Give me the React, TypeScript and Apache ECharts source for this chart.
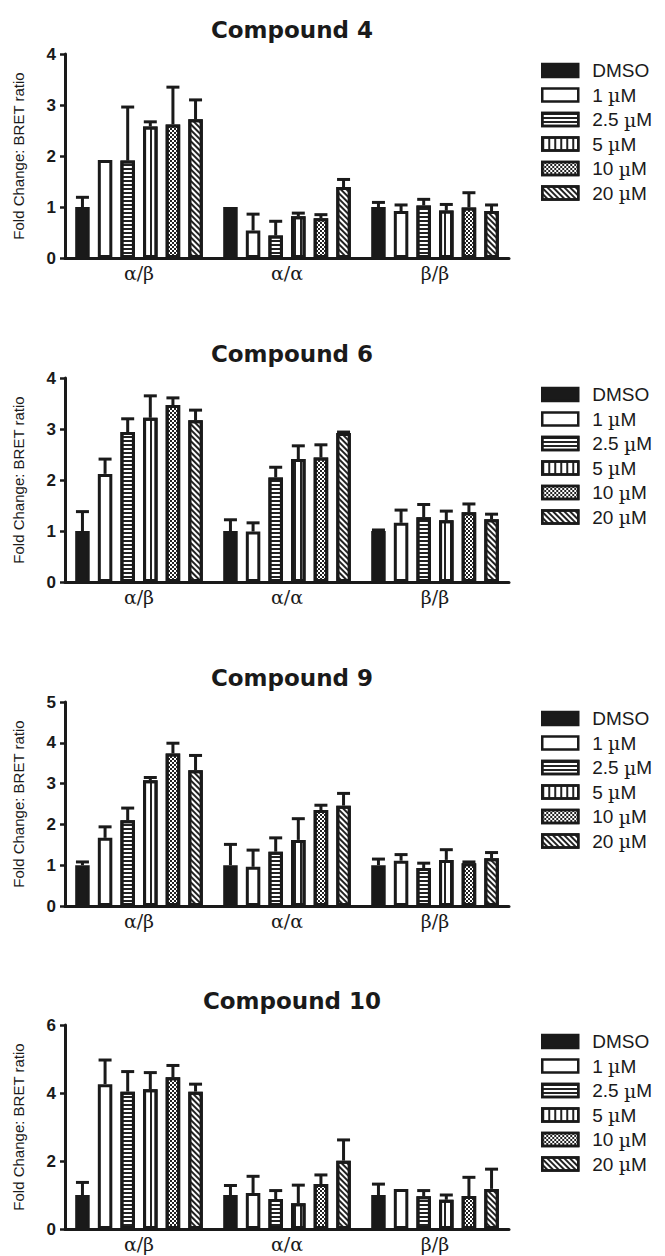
import React, { useEffect, useRef } from "react";
import * as echarts from "echarts";

const categories = ["α/β", "α/α", "β/β"];
const concentrations = ["DMSO", "1 µM", "2.5 µM", "5 µM", "10 µM", "20 µM"];
const compounds = ["Compound 4", "Compound 6", "Compound 9", "Compound 10"];
const yMax = [4, 4, 5, 6];
const yInterval = [1, 1, 1, 2];

// means per concentration: [α/β, α/α, β/β]
const c4Mean = [
  [1.0, 1.0, 1.0],
  [1.92, 0.54, 0.92],
  [1.91, 0.44, 1.03],
  [2.58, 0.82, 0.93],
  [2.62, 0.78, 0.99],
  [2.72, 1.39, 0.92],
];
const c4Err = [
  [0.19, 0, 0.09],
  [0, 0.32, 0.12],
  [1.05, 0.28, 0.12],
  [0.09, 0.06, 0.12],
  [0.73, 0.07, 0.29],
  [0.38, 0.15, 0.12],
];
const c6Mean = [
  [1.0, 1.0, 1.0],
  [2.12, 0.99, 1.16],
  [2.94, 2.05, 1.27],
  [3.22, 2.41, 1.21],
  [3.47, 2.44, 1.37],
  [3.17, 2.92, 1.23],
];
const c6Err = [
  [0.38, 0.22, 0.02],
  [0.29, 0.17, 0.25],
  [0.26, 0.2, 0.25],
  [0.43, 0.26, 0.18],
  [0.14, 0.25, 0.16],
  [0.2, 0.02, 0.1],
];
const c9Mean = [
  [1.0, 1.0, 1.0],
  [1.67, 0.96, 1.11],
  [2.1, 1.33, 0.93],
  [3.08, 1.62, 1.13],
  [3.74, 2.35, 1.05],
  [3.33, 2.46, 1.17],
];
const c9Err = [
  [0.08, 0.51, 0.15],
  [0.27, 0.41, 0.15],
  [0.3, 0.34, 0.12],
  [0.07, 0.52, 0.25],
  [0.25, 0.12, 0.03],
  [0.36, 0.3, 0.14],
];
const c10Mean = [
  [1.0, 1.0, 1.0],
  [4.26, 1.06, 1.18],
  [4.04, 0.88, 0.96],
  [4.11, 0.76, 0.86],
  [4.46, 1.32, 0.97],
  [4.04, 2.01, 1.18],
];
const c10Err = [
  [0.37, 0.28, 0.32],
  [0.71, 0.49, 0],
  [0.59, 0.25, 0.17],
  [0.49, 0.53, 0.14],
  [0.35, 0.27, 0.55],
  [0.22, 0.61, 0.58],
];

const allMeans = [c4Mean, c6Mean, c9Mean, c10Mean];
const allErrs = [c4Err, c6Err, c9Err, c10Err];

const INK = "#1a1a1a";
const GRID_TOPS = [54, 378, 702, 1025];
const GRID_LEFT = 65;
const GRID_W = 444;
const GRID_H = 204;
const BAR_W = 14.5;
const BAR_GAP_PCT = 56;
const PITCH = BAR_W * (1 + BAR_GAP_PCT / 100);

const fills: any[] = [
  { color: INK },
  { color: "#ffffff" },
  {
    color: "#ffffff",
    decal: { symbol: "rect", symbolSize: 1, color: "#222", backgroundColor: "#fff", dashArrayX: [1, 0], dashArrayY: [1.2, 1.8], rotation: 0 },
  },
  {
    color: "#ffffff",
    decal: { symbol: "rect", symbolSize: 1, color: "#222", backgroundColor: "#fff", dashArrayX: [1.2, 3.3], dashArrayY: [1, 0], rotation: 0 },
  },
  {
    color: "#ffffff",
    decal: { symbol: "rect", symbolSize: 1, color: "#222", backgroundColor: "#fff", dashArrayX: [[1.5, 1.5], [0, 1.5, 1.5, 0]], dashArrayY: [1.5, 0], rotation: 0 },
  },
  {
    color: "#ffffff",
    decal: { symbol: "rect", symbolSize: 1, color: "#222", backgroundColor: "#fff", dashArrayX: [1, 0], dashArrayY: [1.2, 1.8], rotation: Math.PI / 4 },
  },
];

function buildOption() {
  const grid: any[] = [];
  const xAxis: any[] = [];
  const yAxis: any[] = [];
  const title: any[] = [];
  const legend: any[] = [];
  const series: any[] = [];

  compounds.forEach((name, p) => {
    const top = GRID_TOPS[p];
    grid.push({ left: GRID_LEFT, top, width: GRID_W, height: GRID_H });
    title.push({
      text: name,
      left: GRID_LEFT + GRID_W / 2,
      top: top - 41,
      textAlign: "center",
      textStyle: { fontFamily: "DejaVu Sans", fontWeight: "bold", fontSize: 23, color: INK },
    });
    legend.push({
      orient: "vertical",
      left: 536,
      top: top + 2,
      itemWidth: 36,
      itemHeight: 13,
      itemGap: 5.5,
      icon: "rect",
      data: concentrations,
      selectedMode: false,
      itemStyle: { borderColor: INK, borderWidth: 2.5 },
      formatter: (n: string) => n.replace("µ", "{mu|µ}"),
      textStyle: {
        fontFamily: "Liberation Sans",
        fontSize: 19,
        color: INK,
        padding: [0, 0, 0, 9],
        rich: { mu: { fontFamily: "DejaVu Serif", fontSize: 19, color: INK } },
      },
    });
    xAxis.push({
      type: "category",
      gridIndex: p,
      data: categories,
      axisLine: { lineStyle: { color: INK, width: 3 } },
      axisTick: { alignWithLabel: true, length: 5, lineStyle: { color: INK, width: 2.5 } },
      axisLabel: { fontFamily: "DejaVu Serif", fontSize: 19, lineHeight: 18, color: INK, margin: 6 },
    });
    yAxis.push({
      type: "value",
      gridIndex: p,
      min: 0,
      max: yMax[p],
      interval: yInterval[p],
      name: "Fold Change: BRET ratio",
      nameLocation: "middle",
      nameGap: 39,
      nameTextStyle: { fontFamily: "Liberation Sans", fontSize: 15, color: INK },
      axisLine: { show: true, lineStyle: { color: INK, width: 3 } },
      axisTick: { show: true, length: 5, lineStyle: { color: INK, width: 2.5 } },
      axisLabel: { fontFamily: "Liberation Sans", fontWeight: "bold", fontSize: 17, color: INK, margin: 9 },
      splitLine: { show: false },
    });

    concentrations.forEach((conc, i) => {
      series.push({
        type: "bar",
        name: conc,
        xAxisIndex: p,
        yAxisIndex: p,
        barWidth: BAR_W,
        barGap: BAR_GAP_PCT + "%",
        data: allMeans[p][i],
        itemStyle: { ...fills[i], borderColor: INK, borderWidth: 3 },
      });
    });
    concentrations.forEach((conc, i) => {
      series.push({
        type: "custom",
        xAxisIndex: p,
        yAxisIndex: p,
        data: categories.map((_, ci) => [ci, allMeans[p][i][ci], allErrs[p][i][ci]]),
        encode: { x: 0, y: 1 },
        z: 3,
        renderItem: (params: any, api: any) => {
          const ci = api.value(0);
          const m = api.value(1);
          const e = api.value(2);
          if (!(e > 0)) return { type: "group", children: [] };
          const base = api.coord([ci, m]);
          const tip = api.coord([ci, m + e]);
          const x = base[0] + (i - 2.5) * PITCH;
          const st = { stroke: INK, lineWidth: 3 };
          return {
            type: "group",
            children: [
              { type: "line", shape: { x1: x, y1: base[1], x2: x, y2: tip[1] }, style: st },
              { type: "line", shape: { x1: x - 6.5, y1: tip[1], x2: x + 6.5, y2: tip[1] }, style: st },
            ],
          };
        },
      });
    });
  });

  return {
    animation: false,
    backgroundColor: "#ffffff",
    title,
    legend,
    grid,
    xAxis,
    yAxis,
    series,
  };
}

export default function App() {
  const ref = useRef<HTMLDivElement>(null);
  useEffect(() => {
    if (!ref.current) return;
    const chart = echarts.init(ref.current, undefined, { renderer: "svg" });
    chart.setOption(buildOption() as any);
    return () => chart.dispose();
  }, []);
  return (
    <div
      ref={ref}
      style={{ position: "absolute", left: 0, top: 0, width: 665, height: 1256, background: "#fff" }}
    />
  );
}
